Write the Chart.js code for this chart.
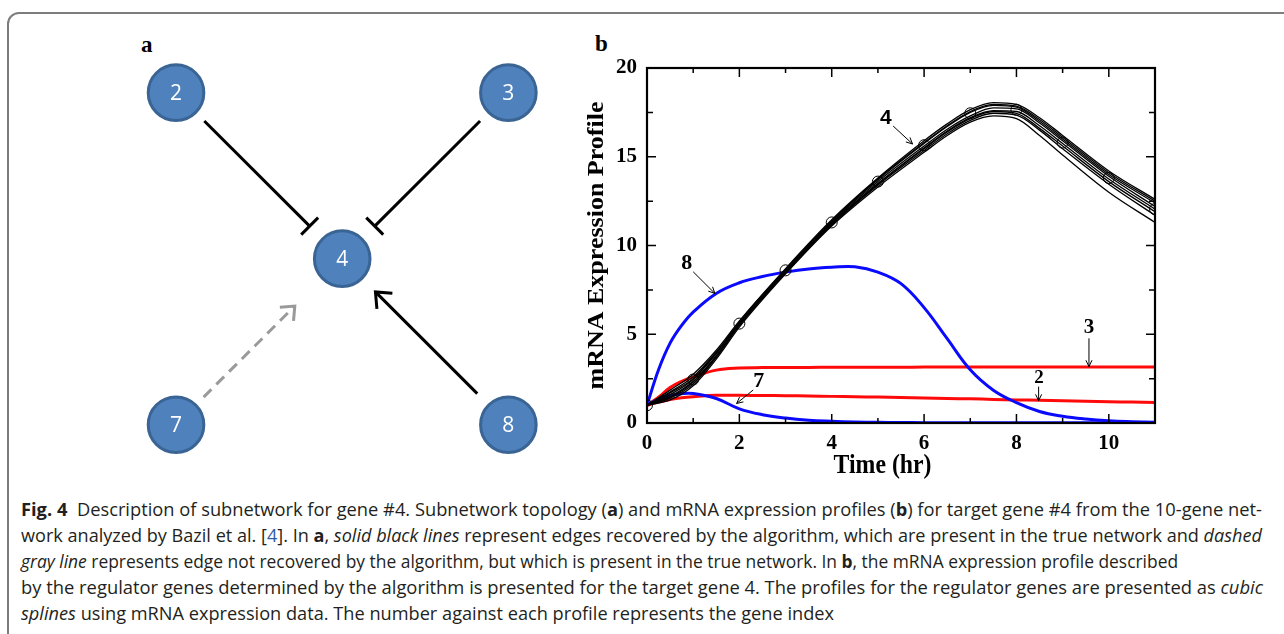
<!DOCTYPE html>
<html>
<head>
<meta charset="utf-8">
<script src="https://cdn.jsdelivr.net/npm/chart.js@4"></script>
<style>
  body { margin: 0; width: 1284px; height: 634px; background: #fff; position: relative; overflow: hidden; }
  #frame { position: absolute; left: 7px; top: 12px; width: 1330px; height: 700px; border: 2px solid #7d7d7d; border-radius: 12px; box-sizing: border-box; }
  .panel-label { position: absolute; font: bold 23px 'Liberation Serif', serif; line-height: 23px; color: #000; }
  #wrapA { position: absolute; left: 100px; top: 30px; width: 480px; height: 440px; }
  #wrapB { position: absolute; left: 560px; top: 40px; width: 620px; height: 450px; }
  #caption { position: absolute; left: 21px; top: 496px; font-family: 'Open Sans', sans-serif; font-size: 18.5px; color: #231f20; }
  #caption .line { height: 26px; line-height: 26px; white-space: nowrap; }
  #caption .line span.fit { display: inline-block; transform-origin: left center; }
  .ref { color: #2e5aa8; }
</style>
</head>
<body>
<div id="frame"></div>
<div class="panel-label" style="left:141px; top:33px;">a</div>
<div class="panel-label" style="left:595px; top:32px;">b</div>
<div id="wrapA"><canvas id="netChart" width="480" height="440"></canvas></div>
<div id="wrapB"><canvas id="profileChart" width="620" height="450"></canvas></div>
<div id="caption">
  <div class="line"><span class="fit" data-w="1241"><b>Fig. 4</b>&nbsp; Description of subnetwork for gene #4. Subnetwork topology (<b>a</b>) and mRNA expression profiles (<b>b</b>) for target gene #4 from the 10-gene net-</span></div>
  <div class="line"><span class="fit" data-w="1241">work analyzed by Bazil et al. [<span class="ref">4</span>]. In <b>a</b>, <i>solid black lines</i> represent edges recovered by the algorithm, which are present in the true network and <i>dashed</i></span></div>
  <div class="line"><span class="fit" data-w="1157"><i>gray line</i> represents edge not recovered by the algorithm, but which is present in the true network. In <b>b</b>, the mRNA expression profile described</span></div>
  <div class="line"><span class="fit" data-w="1242">by the regulator genes determined by the algorithm is presented for the target gene 4. The profiles for the regulator genes are presented as <i>cubic</i></span></div>
  <div class="line"><span class="fit" data-w="813"><i>splines</i> using mRNA expression data. The number against each profile represents the gene index</span></div>
</div>
<script>
// ---------- panel a: network ----------
const nodeIds = ['2', '3', '4', '7', '8'];
const nodeX = [0, 4, 2, 0, 4];
const nodeY = [4, 4, 2, 0, 0];
const edgeFrom = ['2', '3', '8', '7'];
const edgeTo = ['4', '4', '4', '4'];
const edgeType = ['inhibit', 'inhibit', 'activate', 'missing'];

// ---------- panel b: mRNA expression profiles ----------
const T = [0, 0.25, 0.5, 0.75, 1, 1.5, 2, 2.5, 3, 3.5, 4, 4.5, 5, 5.5, 6, 6.5, 7, 7.5, 8, 8.5, 9, 9.5, 10, 10.5, 11];
const gene8 = [1, 3.0, 4.5, 5.5, 6.25, 7.3, 7.9, 8.25, 8.5, 8.68, 8.77, 8.8, 8.5, 7.85, 6.5, 4.75, 3.0, 1.85, 1.15, 0.65, 0.38, 0.22, 0.12, 0.07, 0.04];
const gene7 = [1, 1.35, 1.55, 1.65, 1.66, 1.38, 0.8, 0.47, 0.28, 0.16, 0.1, 0.06, 0.04, 0.03, 0.02, 0.02, 0.01, 0.01, 0.01, 0.01, 0.01, 0.01, 0.01, 0.01, 0.01];
const gene3 = [1, 1.45, 2.0, 2.35, 2.6, 2.98, 3.1, 3.12, 3.13, 3.13, 3.14, 3.14, 3.14, 3.14, 3.15, 3.15, 3.15, 3.15, 3.15, 3.15, 3.15, 3.15, 3.15, 3.15, 3.15];
const gene2 = [1, 1.18, 1.32, 1.42, 1.48, 1.56, 1.56, 1.55, 1.54, 1.52, 1.5, 1.48, 1.46, 1.43, 1.41, 1.38, 1.36, 1.33, 1.3, 1.28, 1.25, 1.23, 1.2, 1.18, 1.15];

// gene 4: model fits (bundle of thin black lines) and measured points
const TB = [0, 0.5, 1, 1.5, 2, 3, 4, 5, 6, 6.5, 7, 7.5, 8, 8.5, 9, 10, 11];
const gene4Fits = [
  [1, 1.85, 2.75, 4.1, 5.75, 8.7, 11.45, 13.8, 15.9, 16.85, 17.65, 18.05, 17.95, 17.2, 16.2, 14.2, 12.6],
  [1, 1.75, 2.6, 4.0, 5.65, 8.6, 11.35, 13.7, 15.75, 16.7, 17.5, 17.9, 17.8, 17.0, 16.0, 14.0, 12.4],
  [1, 1.7, 2.5, 3.95, 5.7, 8.65, 11.4, 13.75, 15.8, 16.75, 17.55, 17.95, 17.85, 17.1, 16.1, 14.1, 12.5],
  [1, 1.6, 2.45, 3.9, 5.6, 8.55, 11.3, 13.6, 15.6, 16.55, 17.3, 17.75, 17.7, 16.9, 15.9, 13.9, 12.2],
  [1, 1.5, 2.35, 3.8, 5.55, 8.5, 11.25, 13.5, 15.5, 16.45, 17.2, 17.6, 17.55, 16.75, 15.75, 13.75, 12.05],
  [1, 1.45, 2.3, 3.75, 5.5, 8.5, 11.2, 13.45, 15.45, 16.4, 17.15, 17.55, 17.45, 16.6, 15.6, 13.6, 11.9],
  [1, 1.4, 2.2, 3.7, 5.5, 8.45, 11.15, 13.4, 15.35, 16.3, 17.05, 17.45, 17.35, 16.5, 15.45, 13.45, 11.7],
  [1, 1.3, 2.1, 3.6, 5.4, 8.4, 11.1, 13.3, 15.25, 16.2, 16.95, 17.3, 17.15, 16.2, 15.1, 13.0, 11.3]
];
const obsT = [0, 1, 2, 3, 4, 5, 6, 7, 8, 9, 10, 11];
const gene4Obs = [1, 2.45, 5.6, 8.6, 11.3, 13.6, 15.65, 17.45, 17.65, 15.8, 13.8, 12.05];

const xTicks = { min: 0, max: 11, step: 1 };
const yTicks = { min: 0, max: 20, step: 2.5 };

function pts(xs, ys) {
    return xs.map((x, i) => ({ x: x, y: ys[i] }));
}

// ---------- draw panel a ----------
const edgeStyle = {
    inhibit: { color: '#000', dash: [], start: 40, end: 46 },
    activate: { color: '#000', dash: [], start: 44, end: 47 },
    missing: { color: '#9a9a9a', dash: [11, 7], start: 39, end: 67 }
};

const networkPlugin = {
    id: 'network',
    beforeDatasetsDraw(chart) {
        const { ctx, scales: { x, y } } = chart;
        const pos = id => {
            const i = nodeIds.indexOf(id);
            return { x: x.getPixelForValue(nodeX[i]), y: y.getPixelForValue(nodeY[i]) };
        };
        edgeFrom.forEach((from, k) => {
            const st = edgeStyle[edgeType[k]];
            const p1 = pos(from);
            const p2 = pos(edgeTo[k]);
            const len = Math.hypot(p2.x - p1.x, p2.y - p1.y);
            const ux = (p2.x - p1.x) / len;
            const uy = (p2.y - p1.y) / len;
            const sx = p1.x + ux * st.start, sy = p1.y + uy * st.start;
            const ex = p2.x - ux * st.end, ey = p2.y - uy * st.end;
            ctx.save();
            ctx.strokeStyle = st.color;
            ctx.lineWidth = 3;
            ctx.setLineDash(st.dash);
            ctx.beginPath();
            ctx.moveTo(sx, sy);
            ctx.lineTo(ex, ey);
            ctx.stroke();
            ctx.setLineDash([]);
            ctx.beginPath();
            if (edgeType[k] === 'inhibit') {
                ctx.moveTo(ex - uy * 12, ey + ux * 12);
                ctx.lineTo(ex + uy * 12, ey - ux * 12);
            } else {
                const a = Math.atan2(uy, ux);
                const h = edgeType[k] === 'missing' ? 15 : 17;
                ctx.moveTo(ex - h * Math.cos(a - 0.7), ey - h * Math.sin(a - 0.7));
                ctx.lineTo(ex, ey);
                ctx.lineTo(ex - h * Math.cos(a + 0.7), ey - h * Math.sin(a + 0.7));
            }
            ctx.stroke();
            ctx.restore();
        });
    },
    afterDatasetsDraw(chart) {
        const { ctx, scales: { x, y } } = chart;
        ctx.save();
        ctx.fillStyle = '#fff';
        ctx.font = '21px "Open Sans", sans-serif';
        ctx.textAlign = 'center';
        ctx.textBaseline = 'middle';
        nodeIds.forEach((id, i) => {
            ctx.fillText(id, x.getPixelForValue(nodeX[i]), y.getPixelForValue(nodeY[i]) + 1);
        });
        ctx.restore();
    }
};

new Chart(document.getElementById('netChart'), {
    type: 'scatter',
    data: {
        datasets: [{
            data: pts(nodeX, nodeY),
            backgroundColor: '#4f81bd',
            borderColor: '#3a6494',
            borderWidth: 3,
            pointRadius: 27.8,
            pointHoverRadius: 27.8
        }]
    },
    options: {
        responsive: false,
        animation: false,
        devicePixelRatio: 1,
        layout: { padding: 0, autoPadding: false },
        plugins: { legend: { display: false }, tooltip: { enabled: false } },
        scales: {
            x: { type: 'linear', display: false, min: -0.915, max: 4.862 },
            y: { type: 'linear', display: false, min: -0.546, max: 4.755 }
        }
    },
    plugins: [networkPlugin]
});

// ---------- draw panel b ----------
const notes = [
    { text: '4', font: 'bold 21px "Liberation Sans", sans-serif', tx: 5.17, ty: 17.17, x1: 5.33, y1: 16.73, x2: 5.75, y2: 15.72 },
    { text: '8', font: 'bold 22px "Liberation Serif", serif', tx: 0.86, ty: 9.0, x1: 1.0, y1: 8.52, x2: 1.47, y2: 7.3 },
    { text: '7', font: 'bold 22px "Liberation Serif", serif', tx: 2.42, ty: 2.33, x1: 2.3, y1: 1.86, x2: 1.94, y2: 1.1 },
    { text: '3', font: 'bold 21px "Liberation Serif", serif', tx: 9.57, ty: 5.39, x1: 9.57, y1: 4.77, x2: 9.57, y2: 3.18 },
    { text: '2', font: 'bold 19px "Liberation Serif", serif', tx: 8.49, ty: 2.52, x1: 8.48, y1: 2.05, x2: 8.48, y2: 1.26 }
];

const framePlugin = {
    id: 'frameTicks',
    afterDatasetsDraw(chart) {
        const { ctx, chartArea: a, scales: { x, y } } = chart;
        ctx.save();
        ctx.strokeStyle = '#000';
        ctx.lineWidth = 1.5;
        ctx.beginPath();
        x.ticks.forEach(t => {
            const px = x.getPixelForValue(t.value);
            const len = t.value % 2 === 0 ? 9 : 5;
            ctx.moveTo(px, a.bottom); ctx.lineTo(px, a.bottom - len);
            ctx.moveTo(px, a.top); ctx.lineTo(px, a.top + len);
        });
        y.ticks.forEach(t => {
            const py = y.getPixelForValue(t.value);
            const len = t.value % 5 === 0 ? 9 : 6;
            ctx.moveTo(a.left, py); ctx.lineTo(a.left + len, py);
            ctx.moveTo(a.right, py); ctx.lineTo(a.right - len, py);
        });
        ctx.stroke();
        ctx.lineWidth = 2.2;
        ctx.strokeRect(a.left, a.top, a.right - a.left, a.bottom - a.top);

        // gene labels with small arrows
        ctx.lineWidth = 1;
        ctx.fillStyle = '#000';
        ctx.textAlign = 'center';
        ctx.textBaseline = 'middle';
        notes.forEach(n => {
            ctx.font = n.font;
            ctx.fillText(n.text, x.getPixelForValue(n.tx), y.getPixelForValue(n.ty));
            const ax = x.getPixelForValue(n.x1), ay = y.getPixelForValue(n.y1);
            const bx = x.getPixelForValue(n.x2), by = y.getPixelForValue(n.y2);
            const ang = Math.atan2(by - ay, bx - ax);
            ctx.beginPath();
            ctx.moveTo(ax, ay);
            ctx.lineTo(bx, by);
            ctx.moveTo(bx - 7 * Math.cos(ang - 0.45), by - 7 * Math.sin(ang - 0.45));
            ctx.lineTo(bx, by);
            ctx.lineTo(bx - 7 * Math.cos(ang + 0.45), by - 7 * Math.sin(ang + 0.45));
            ctx.stroke();
        });

        // axis titles (slightly condensed like the original figure)
        ctx.font = 'bold 27px "Liberation Serif", serif';
        ctx.save();
        ctx.translate(x.getPixelForValue(5.1), a.bottom + 43);
        ctx.scale(0.88, 1);
        ctx.fillText('Time (hr)', 0, 0);
        ctx.restore();
        ctx.save();
        ctx.translate(a.left - 50, (a.top + a.bottom) / 2);
        ctx.rotate(-Math.PI / 2);
        ctx.scale(1, 0.85);
        ctx.font = 'bold 26px "Liberation Serif", serif';
        ctx.fillText('mRNA Expression Profile', 0, 0);
        ctx.restore();
        ctx.restore();
    }
};

const lineDefaults = { pointRadius: 0, fill: false, tension: 0.4 };

const datasets = [];
datasets.push({
    label: 'gene 4 data', data: pts(obsT, gene4Obs), showLine: false,
    pointRadius: 5.5, pointBorderColor: '#000', pointBackgroundColor: 'rgba(0,0,0,0)', pointBorderWidth: 1
});
gene4Fits.forEach((fit, i) => {
    datasets.push(Object.assign({ label: 'gene 4 fit ' + (i + 1), data: pts(TB, fit), borderColor: '#000', borderWidth: 1.3 }, lineDefaults, { cubicInterpolationMode: 'monotone' }));
});
datasets.push(Object.assign({ label: 'gene 8', data: pts(T, gene8), borderColor: '#0a0aff', borderWidth: 3 }, lineDefaults));
datasets.push(Object.assign({ label: 'gene 7', data: pts(T, gene7), borderColor: '#0a0aff', borderWidth: 3 }, lineDefaults));
datasets.push(Object.assign({ label: 'gene 3', data: pts(T, gene3), borderColor: '#ff0a0a', borderWidth: 3 }, lineDefaults));
datasets.push(Object.assign({ label: 'gene 2', data: pts(T, gene2), borderColor: '#ff0a0a', borderWidth: 3 }, lineDefaults));

const tickFont = { family: '"Liberation Serif", serif', size: 21, weight: 'bold' };

new Chart(document.getElementById('profileChart'), {
    type: 'line',
    data: { datasets: datasets },
    options: {
        responsive: false,
        animation: false,
        devicePixelRatio: 1,
        layout: { padding: { left: 0, right: 25, top: 28, bottom: 0 }, autoPadding: false },
        plugins: { legend: { display: false }, tooltip: { enabled: false } },
        scales: {
            x: {
                type: 'linear', min: xTicks.min, max: xTicks.max,
                afterFit(s) { s.height = 67; },
                grid: { display: false, drawTicks: false },
                border: { display: false },
                ticks: {
                    stepSize: xTicks.step, autoSkip: false, maxRotation: 0, padding: 8,
                    color: '#000', font: tickFont,
                    callback: v => (v % 2 === 0 ? v : '')
                }
            },
            y: {
                type: 'linear', min: yTicks.min, max: yTicks.max,
                afterFit(s) { s.width = 87; },
                grid: { display: false, drawTicks: false },
                border: { display: false },
                ticks: {
                    stepSize: yTicks.step, autoSkip: false, padding: 10,
                    color: '#000', font: tickFont,
                    callback: v => (v % 5 === 0 ? v : '')
                }
            }
        }
    },
    plugins: [framePlugin]
});

// ---------- caption: fit each line to the width it has in the figure ----------
document.querySelectorAll('#caption span.fit').forEach(el => {
    const target = parseFloat(el.dataset.w);
    const w = el.getBoundingClientRect().width;
    el.style.transform = 'scaleX(' + (target / w).toFixed(4) + ')';
});
</script>
</body>
</html>
